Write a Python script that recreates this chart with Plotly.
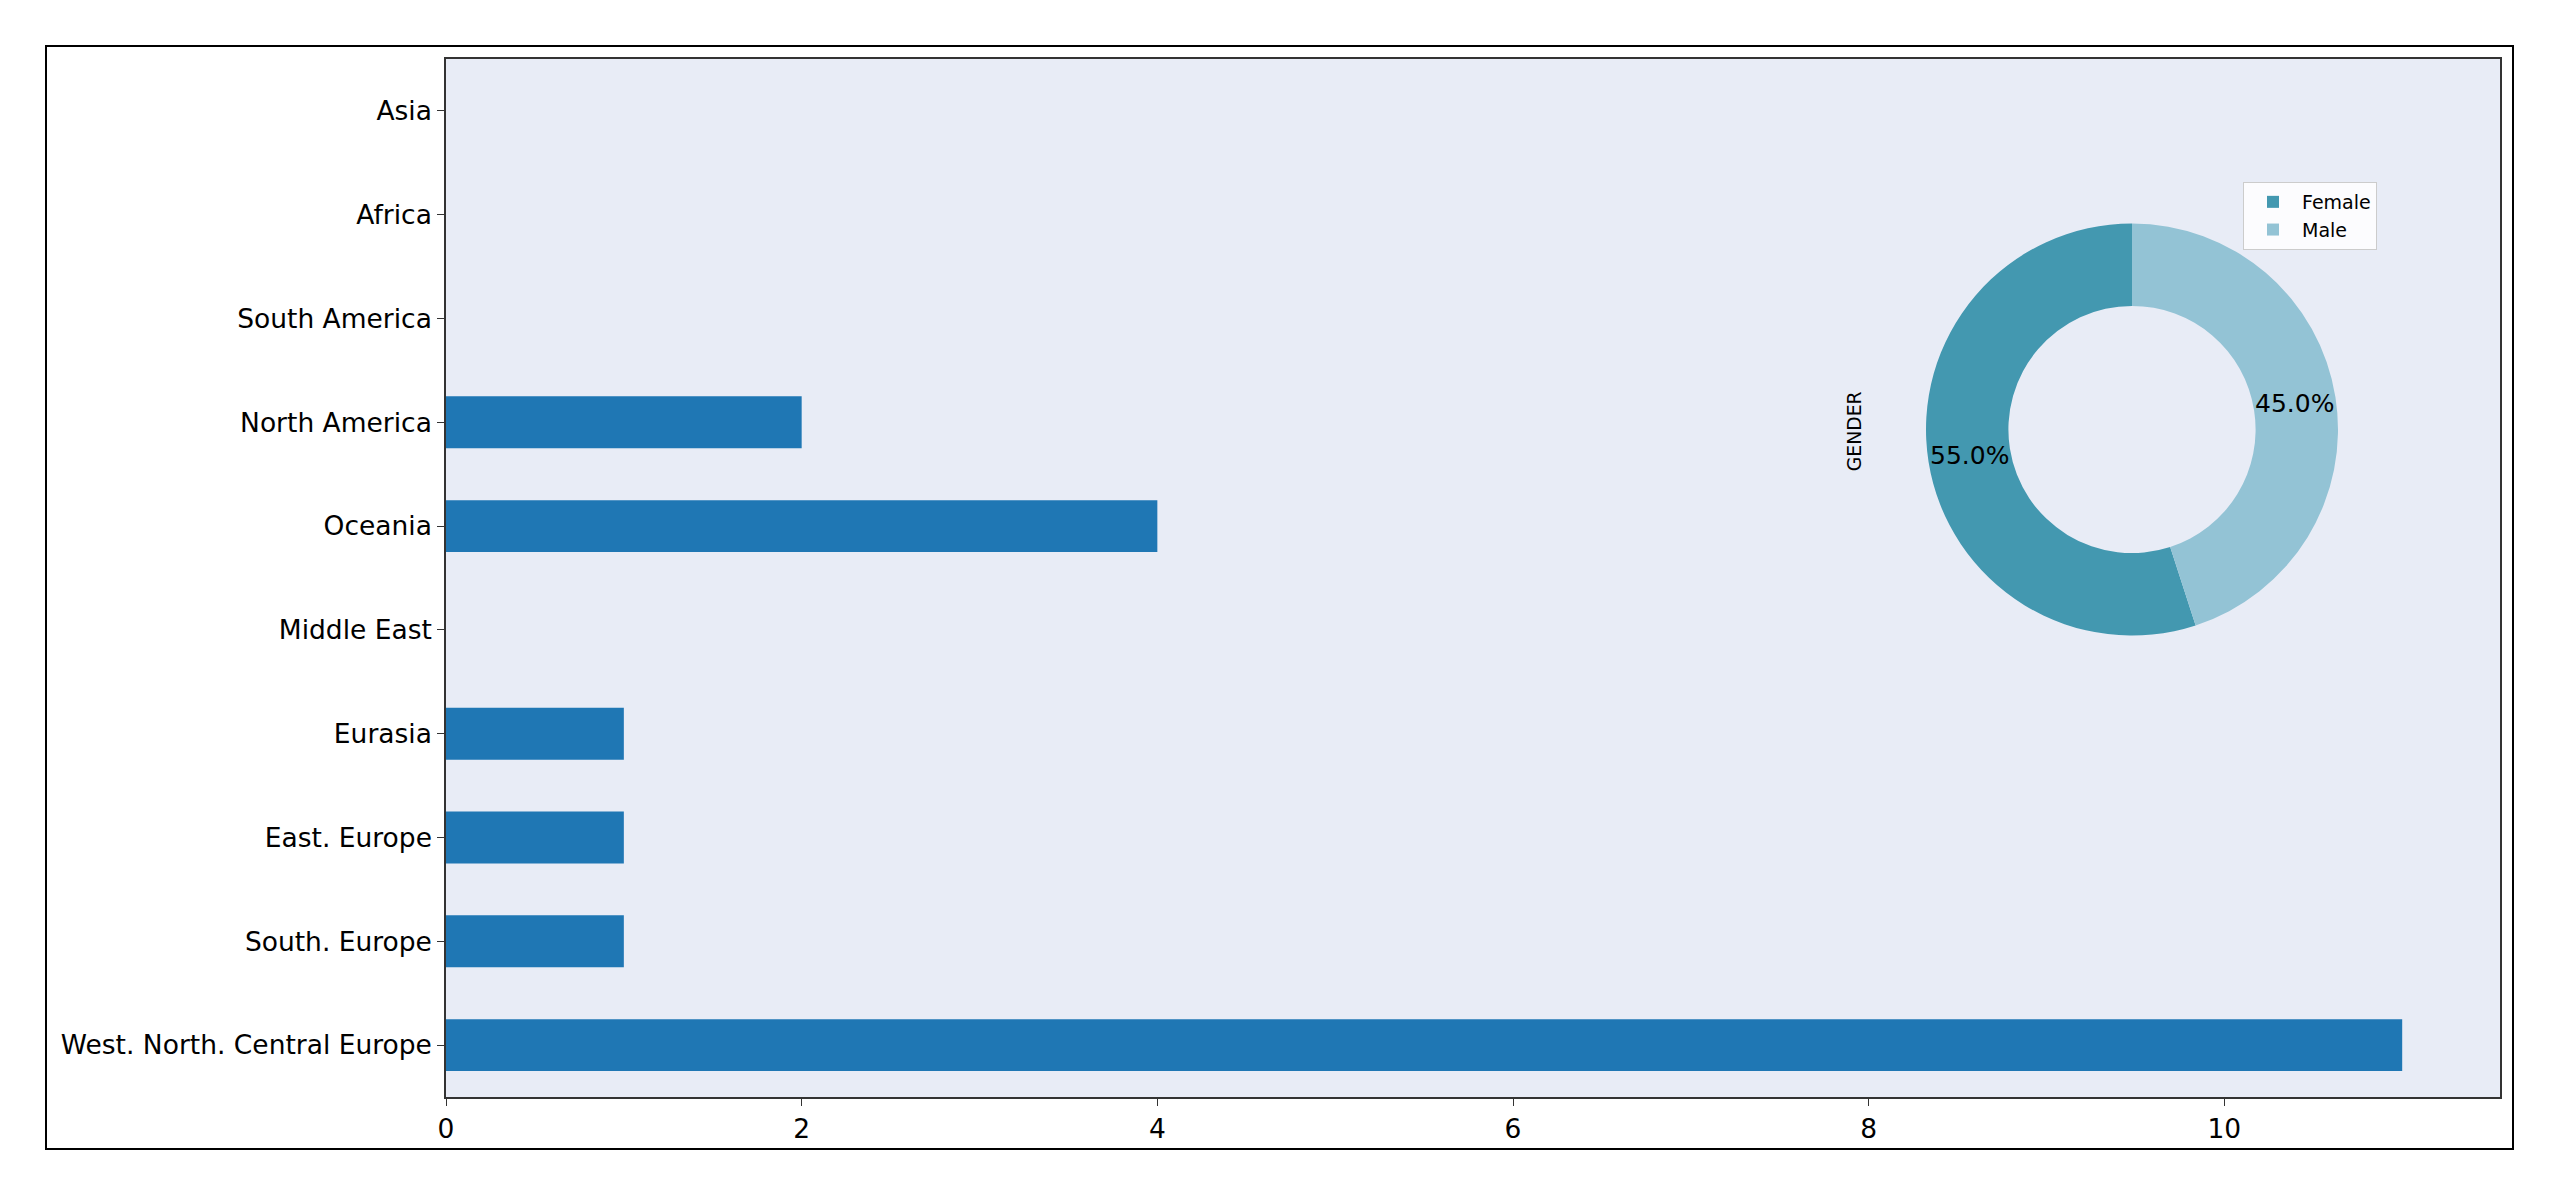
import math
import plotly.graph_objects as go

# ---- data ----
regions = ["West. North. Central Europe", "South. Europe", "East. Europe", "Eurasia",
           "Middle East", "Oceania", "North America", "South America", "Africa", "Asia"]
counts = [11, 1, 1, 1, 0, 4, 2, 0, 0, 0]

genders = ["Female", "Male"]
gender_share = [55, 45]
gender_colors = ["#4398b0", "#93c3d5"]

x_ticks = [0, 2, 4, 6, 8, 10]

FONT = "DejaVu Sans"
OFF = 8  # browser body margin
SW, SH = 2560, 1197
W, H = SW - OFF, SH - OFF
L, R, T, B = 446 - OFF, 60, 59 - OFF, 100
PL, PR, PT, PB = 446, 2500, 59, 1097   # screen plot-area edges
PW, PH = PR - PL, PB - PT


def px_x(x):
    return (x - PL) / PW


def px_y(y):
    return (PB - y) / PH


fig = go.Figure()

fig.add_trace(go.Bar(
    y=regions, x=counts, orientation="h", width=0.5,
    marker=dict(color="#1f77b4", line=dict(width=0)),
    showlegend=False,
))

# donut: first slice drawn counter-clockwise from 12 o'clock (matplotlib style)
total = sum(gender_share)
first_angle = -360.0 * gender_share[0] / total
cx, cy, rad = 2132, 429.5, 206
HOLE = 0.6
fig.add_trace(go.Pie(
    labels=genders, values=gender_share, hole=HOLE, sort=False,
    direction="clockwise", rotation=first_angle,
    marker=dict(colors=gender_colors, line=dict(width=0)),
    textinfo="none",
    domain=dict(x=[px_x(cx - rad), px_x(cx + rad)], y=[px_y(cy + rad), px_y(cy - rad)]),
    showlegend=True,
))

# percentage labels at ring centre of each wedge (counter-clockwise from top)
start = 90.0
label_r = rad * (1 + HOLE) / 2
for v in gender_share:
    span = 360.0 * v / total
    mid = math.radians(start + span / 2)
    lx = cx + label_r * math.cos(mid)
    ly = cy - label_r * math.sin(mid)
    fig.add_annotation(
        text=f"{100.0 * v / total:.1f}%", xref="paper", yref="paper",
        x=px_x(lx), y=px_y(ly), xanchor="center", yanchor="middle", showarrow=False,
        font=dict(family=FONT, size=25, color="black"),
    )
    start += span

fig.add_annotation(
    text="GENDER", textangle=-90, xref="paper", yref="paper",
    x=px_x(1867), y=px_y(431.7), showarrow=False,
    font=dict(family=FONT, size=18.75, color="black"),
)

# outer frame
fig.add_shape(type="rect", xref="paper", yref="paper",
              x0=px_x(46), x1=px_x(2513), y0=px_y(1149), y1=px_y(46),
              line=dict(color="black", width=2), fillcolor="rgba(0,0,0,0)", layer="above")

fig.update_layout(
    width=W, height=H,
    margin=dict(l=L, r=R, t=T, b=B),
    paper_bgcolor="white",
    plot_bgcolor="#E8ECF6",
    font=dict(family=FONT, size=26.5, color="black"),
    legend=dict(
        x=px_x(2243), y=px_y(182), xanchor="left", yanchor="top",
        bgcolor="rgba(255,255,255,0.85)", bordercolor="#cccccc", borderwidth=1,
        itemwidth=48,
        font=dict(family=FONT, size=19, color="black"),
    ),
    xaxis=dict(
        range=[0, 11.55], tickvals=x_ticks, showgrid=False, zeroline=False,
        showline=True, linecolor="#333333", linewidth=1.5, mirror=True,
        ticks="outside", ticklen=7, tickwidth=1.2, tickcolor="#333333",
        tickfont=dict(family=FONT, size=26.5, color="black"),
    ),
    yaxis=dict(
        range=[-0.5, 9.5], showgrid=False, zeroline=False,
        showline=True, linecolor="#333333", linewidth=1.5, mirror=True,
        ticks="outside", ticklen=7, tickwidth=1.2, tickcolor="#333333",
        tickfont=dict(family=FONT, size=26.5, color="black"),
        categoryorder="array", categoryarray=regions,
    ),
)

fig.write_html("out.html")
